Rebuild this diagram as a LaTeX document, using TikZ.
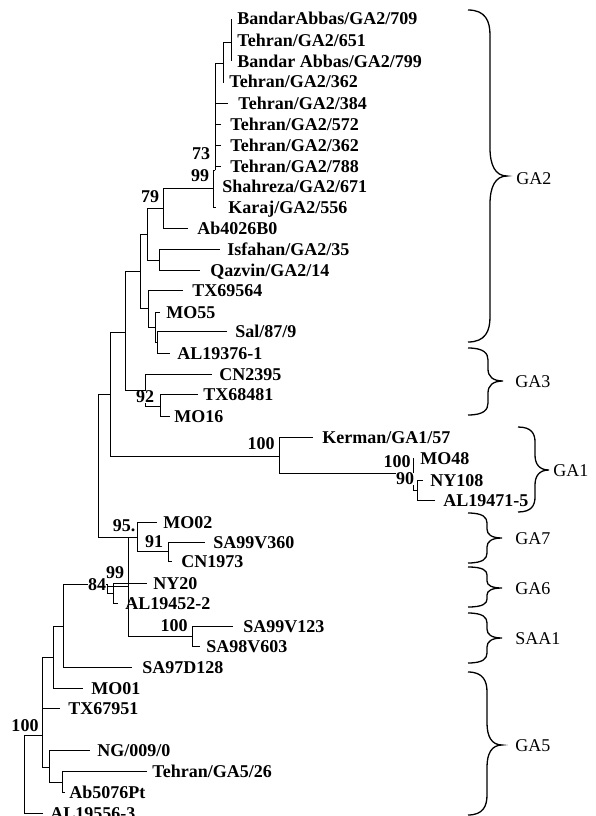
\documentclass[tikz,border=0pt]{standalone}
\usepackage{fontspec}
\setmainfont{Liberation Serif}
\newcommand\tleaf[5]{%
  \coordinate (#1) at (#2,#3);
  \node[lab] (#1t) at (#4,#3+6) {#5};}
\newcommand\gbrace[8]{% xl xm xt top tip bot r1 r2
  \draw[br] (#1,#4) .. controls ({#1+0.8*(#2-#1)},#4) and (#2,{#4+0.45*#7}) .. (#2,{#4+#7})
    -- (#2,{#5-#8}) .. controls (#2,{#5-0.4*#8}) and ({#2+0.3*(#3-#2)},#5) .. (#3,#5)
    .. controls ({#2+0.3*(#3-#2)},#5) and (#2,{#5+0.4*#8}) .. (#2,{#5+#8})
    -- (#2,{#6-#7}) .. controls (#2,{#6-0.45*#7}) and ({#1+0.8*(#2-#1)},#6) .. (#1,#6);}
\begin{document}
\begin{tikzpicture}[x=1pt,y=-1pt,line width=0.9pt,
  br/.style={line width=1.3pt},
  lab/.style={font=\fontsize{18}{18}\selectfont\bfseries,inner sep=0pt,anchor=base west},
  bs/.style={font=\fontsize{18}{18}\selectfont\bfseries,inner sep=0pt},
  bsw/.style={bs,fill=white},
  grp/.style={font=\fontsize{18}{18}\selectfont,inner sep=0pt,anchor=base west}]
\useasboundingbox (0,0) rectangle (595,816);
% leaves
\tleaf{L1}{231}{19}{237}{BandarAbbas/GA2/709}
\tleaf{L2}{231}{41}{237}{Tehran/GA2/651}
\tleaf{L3}{231}{61}{237}{Bandar Abbas/GA2/799}
\tleaf{L4}{224}{82}{229}{Tehran/GA2/362}
\tleaf{L5}{228}{103}{238}{Tehran/GA2/384}
\tleaf{L6}{221}{124}{230}{Tehran/GA2/572}
\tleaf{L7}{221}{145}{230}{Tehran/GA2/362}
\tleaf{L8}{221}{166}{230}{Tehran/GA2/788}
\tleaf{L9}{213}{186}{222}{Shahreza/GA2/671}
\tleaf{L10}{216}{207}{228}{Karaj/GA2/556}
\tleaf{L11}{188}{228}{197}{Ab4026B0}
\tleaf{L12}{220}{249}{227}{Isfahan/GA2/35}
\tleaf{L13}{200}{270}{210}{Qazvin/GA2/14}
\tleaf{L14}{183}{290}{192}{TX69564}
\tleaf{L15}{160}{312}{166}{MO55}
\tleaf{L16}{227}{331}{235}{Sal/87/9}
\tleaf{L17}{170}{353}{177}{AL19376-1}
\tleaf{L18}{212}{374}{219}{CN2395}
\tleaf{L19}{198}{394}{203}{TX68481}
\tleaf{L20}{170}{416}{174}{MO16}
\tleaf{L21}{313}{437}{322}{Kerman/GA1/57}
\tleaf{L22}{413}{458}{420}{MO48}
\tleaf{L23}{423}{480}{430}{NY108}
\tleaf{L24}{435}{500}{443}{AL19471-5}
\tleaf{L25}{157}{522}{163}{MO02}
\tleaf{L26}{205}{542}{213}{SA99V360}
\tleaf{L27}{172}{561}{181}{CN1973}
\tleaf{L28}{147}{583}{153}{NY20}
\tleaf{L29}{118}{603}{125}{AL19452-2}
\tleaf{L30}{233}{626}{243}{SA99V123}
\tleaf{L31}{200}{646}{206}{SA98V603}
\tleaf{L32}{132}{667}{142}{SA97D128}
\tleaf{L33}{83}{688}{91}{MO01}
\tleaf{L34}{60}{708}{68}{TX67951}
\tleaf{L35}{90}{750}{97}{NG/009/0}
\tleaf{L36}{147}{771}{152}{Tehran/GA5/26}
\tleaf{L37}{65}{792}{69}{Ab5076Pt}
\tleaf{L38}{43}{813}{50}{AL19556-3}
% internal nodes
\coordinate (nA) at (231,42);
\coordinate (nB) at (223,63);
\coordinate (n73) at (215,170);
\coordinate (n99) at (213,188);
\coordinate (n79) at (163,208);
\coordinate (nIQ) at (159,260);
\coordinate (nY) at (147,234);
\coordinate (nV) at (157.5,342);
\coordinate (nW) at (155.5,327);
\coordinate (nZ) at (148,308);
\coordinate (nX) at (140,271);
\coordinate (nTM) at (160,406);
\coordinate (n92) at (145,390);
\coordinate (n125) at (125,332);
\coordinate (nNA) at (417,490);
\coordinate (n100b) at (413,473);
\coordinate (n100) at (279,456);
\coordinate (n110) at (110,394);
\coordinate (n91) at (168,551);
\coordinate (n95) at (137,537);
\coordinate (nSA) at (192,636);
\coordinate (n128) at (128,586);
\coordinate (n99b) at (113,593);
\coordinate (n84) at (107,584);
\coordinate (n98) at (98,466);
\coordinate (n63) at (63,626);
\coordinate (n53) at (53,657);
\coordinate (n62) at (62,782);
\coordinate (n49) at (49,767);
\coordinate (n42) at (42,735);
\coordinate (root) at (24,774);
% connectors
\foreach \p/\c in {nA/L1,nA/L2,nA/L3,nB/nA,nB/L4,n73/nB,n73/L5,n73/L6,n73/L7,n73/L8,
  n99/n73,n99/L9,n99/L10,n79/n99,n79/L11,nIQ/L12,nIQ/L13,nY/n79,nY/nIQ,
  nV/L16,nV/L17,nW/L15,nW/nV,nZ/L14,nZ/nW,nX/nY,nX/nZ,nTM/L19,nTM/L20,
  n92/L18,n92/nTM,n125/nX,n125/n92,nNA/L23,nNA/L24,n100b/L22,n100b/nNA,
  n100/L21,n100/n100b,n110/n125,n110/n100,n91/L26,n91/L27,n95/L25,n95/n91,
  nSA/L30,nSA/L31,n128/n95,n128/nSA,n99b/L28,n99b/L29,n84/n128,n84/n99b,
  n98/n110,n98/n95,n63/n84,n63/L32,n53/n63,n53/L33,n62/L36,n62/L37,
  n49/L35,n49/n62,n42/n53,n42/L34,n42/n49,root/n42,root/L38}
  \draw (\p) |- (\c);
% bootstrap values
\node[bs] (b73) at (201,154) {73};
\node[bs] (b99) at (200,176) {99};
\node[bs] (b79) at (150,197) {79};
\node[bsw] (b92) at (145,397) {92};
\node[bs] (b100k) at (261,444) {100};
\node[bs] (b100m) at (397,462) {100};
\node[bsw] (b90) at (405,479) {90};
\node[bs] (b95) at (124,526) {95.};
\node[bs] (b91) at (154,542) {91};
\node[bs] (b99b) at (115,573) {99};
\node[bsw] (b84) at (97,585) {84};
\node[bs] (b100s) at (174,626) {100};
\node[bs] (b100r) at (25,726) {100};
% group braces
\gbrace{468}{490}{507}{10}{176}{342}{25}{28}
\gbrace{468}{488}{503}{348}{381}{415}{12}{12}
\gbrace{518}{535}{549}{427}{470}{512}{15}{15}
\gbrace{468}{487}{502}{513}{538}{563}{10}{9}
\gbrace{468}{487}{502}{567}{588}{607}{8}{7}
\gbrace{468}{487}{502}{613}{638}{663}{10}{9}
\gbrace{468}{487}{502}{672}{745}{815}{20}{22}
\node[grp] (gGA2) at (516,184) {GA2};
\node[grp] (gGA3) at (515,387) {GA3};
\node[grp] (gGA1) at (553,476) {GA1};
\node[grp] (gGA7) at (515,544) {GA7};
\node[grp] (gGA6) at (515,594) {GA6};
\node[grp] (gSAA1) at (515,644) {SAA1};
\node[grp] (gGA5) at (515,751) {GA5};
\end{tikzpicture}
\end{document}
